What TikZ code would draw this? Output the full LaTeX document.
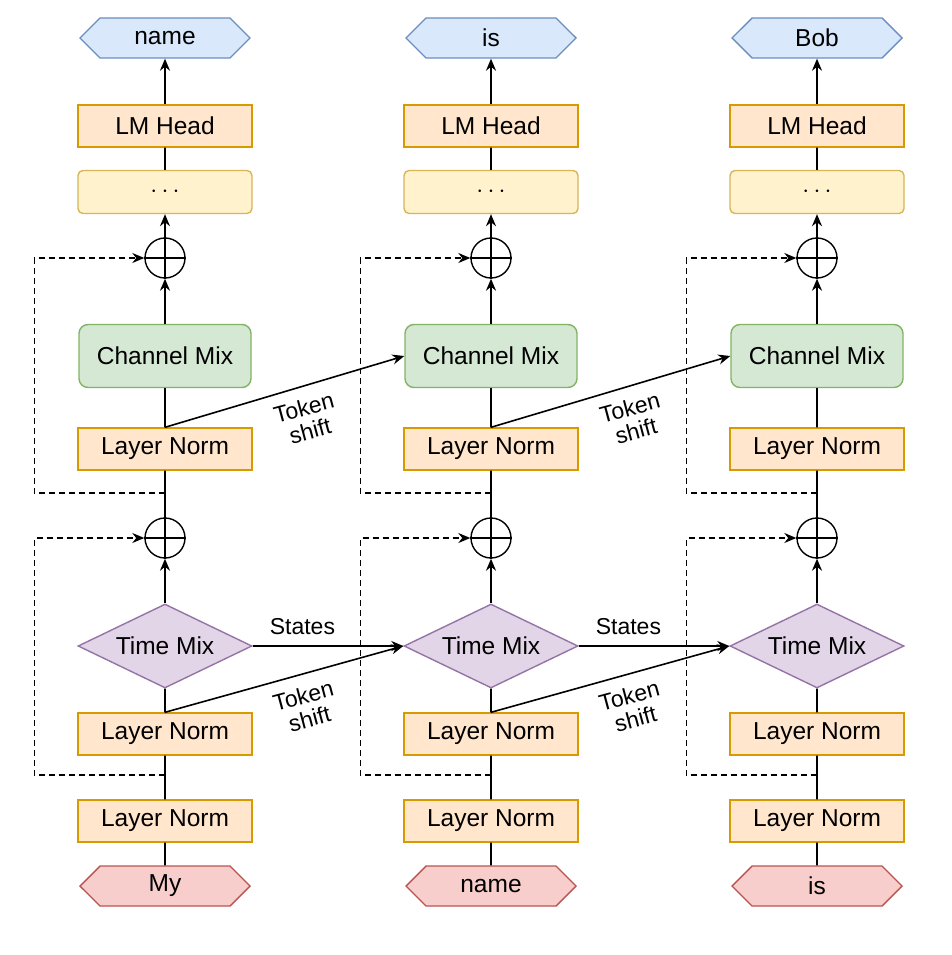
\documentclass[tikz,border=0pt]{standalone}
\usepackage{fontspec}
\setmainfont{Liberation Sans}
\usetikzlibrary{shapes.geometric,shapes.symbols,arrows.meta}
\definecolor{bF}{HTML}{DAE8FC}\definecolor{bS}{HTML}{6C8EBF}
\definecolor{oF}{HTML}{FFE6CC}\definecolor{oS}{HTML}{D79B00}
\definecolor{yF}{HTML}{FFF2CC}\definecolor{yS}{HTML}{D6B656}
\definecolor{gF}{HTML}{D5E8D4}\definecolor{gS}{HTML}{82B366}
\definecolor{pF}{HTML}{E1D5E7}\definecolor{pS}{HTML}{9673A6}
\definecolor{rF}{HTML}{F8CECC}\definecolor{rS}{HTML}{B85450}
\tikzset{
 mybase/.style={font=\fontsize{24.5}{28}\selectfont,line width=1.4pt,inner sep=0pt},
 myhex/.style={mybase,shape=signal,signal to=west and east,signal pointer angle=90,minimum width=170pt,minimum height=40pt},
 outhex/.style={myhex,fill=bF,draw=bS},
 inhex/.style={myhex,fill=rF,draw=rS},
 normbox/.style={mybase,rectangle,fill=oF,draw=oS,minimum width=174pt,minimum height=42pt},
 dotsbox/.style={mybase,rectangle,rounded corners=5pt,fill=yF,draw=yS,minimum width=174pt,minimum height=43pt},
 chanbox/.style={mybase,rectangle,rounded corners=9pt,fill=gF,draw=gS,minimum width=172pt,minimum height=63pt},
 timebox/.style={mybase,diamond,aspect=2.07,fill=pF,draw=pS,minimum width=174pt,minimum height=84pt},
 sumnode/.style={circle,draw,line width=1.4pt,minimum size=40pt,inner sep=0pt},
 plainline/.style={line width=1.6pt},
 arr/.style={plainline,-{Stealth[length=12pt,width=10pt]}},
 skipline/.style={line width=1.3pt,dash pattern=on 6pt off 4pt,-{Stealth[length=12pt,width=10pt]}},
 lab/.style={font=\fontsize{23}{24}\selectfont,align=center,inner sep=0pt}
}
\begin{document}
\begin{tikzpicture}[x=1pt,y=-1pt]
\useasboundingbox (0,0) rectangle (952,955);
\foreach \i/\x/\o/\n in {1/165/name/My,2/491/is/name,3/817/Bob/is}{
 \node[outhex] (out\i) at (\x,38) {\o};
 \node[normbox] (lm\i) at (\x,126) {LM Head};
 \node[dotsbox] (d\i) at (\x,192) {$\cdots$};
 \node[sumnode] (pa\i) at (\x,258) {};
 \node[chanbox] (cm\i) at (\x,356) {Channel Mix};
 \node[normbox] (lna\i) at (\x,449) {Layer Norm};
 \node[sumnode] (pb\i) at (\x,538) {};
 \node[timebox] (tm\i) at (\x,646) {Time Mix};
 \node[normbox] (lnb\i) at (\x,734) {Layer Norm};
 \node[normbox] (lnc\i) at (\x,821) {Layer Norm};
 \node[inhex] (in\i) at (\x,886) {\n};
 \draw[plainline] (pa\i.west)--(pa\i.east) (pb\i.west)--(pb\i.east);
 \draw[plainline] (in\i)--(lnc\i) (lnc\i)--(lnb\i) (lnb\i)--(tm\i.south) (pb\i)--(lna\i) (lna\i)--(cm\i) (d\i)--(lm\i);
 \draw[arr] (tm\i.north)--(pb\i.south);
 \draw[plainline] (pb\i.south)--(pb\i.north);
 \draw[arr] (cm\i)--(pa\i.south);
 \draw[plainline] (pa\i.south)--(pa\i.north);
 \draw[arr] (pa\i.north)--(d\i);
 \draw[arr] (lm\i)--(out\i);
 \coordinate (sa\i) at (\x,493);
 \coordinate (sb\i) at (\x,775);
 \draw[skipline] (sa\i) -| ([xshift=-110pt]pa\i.west) -- (pa\i.west);
 \draw[skipline] (sb\i) -| ([xshift=-110pt]pb\i.west) -- (pb\i.west);
}
\foreach \a/\b in {1/2,2/3}{
 \draw[arr] (tm\a.east)--(tm\b.west) node[lab,pos=0.33,above=10pt]{States};
 \draw[arr] (lnb\a.north)--(tm\b.west) node[lab,pos=0.57,below=12pt,rotate=15]{Token\\shift};
 \draw[arr] (lna\a.north)--(cm\b.west) node[lab,pos=0.57,below=12pt,rotate=15]{Token\\shift};
}
\end{tikzpicture}
\end{document}
